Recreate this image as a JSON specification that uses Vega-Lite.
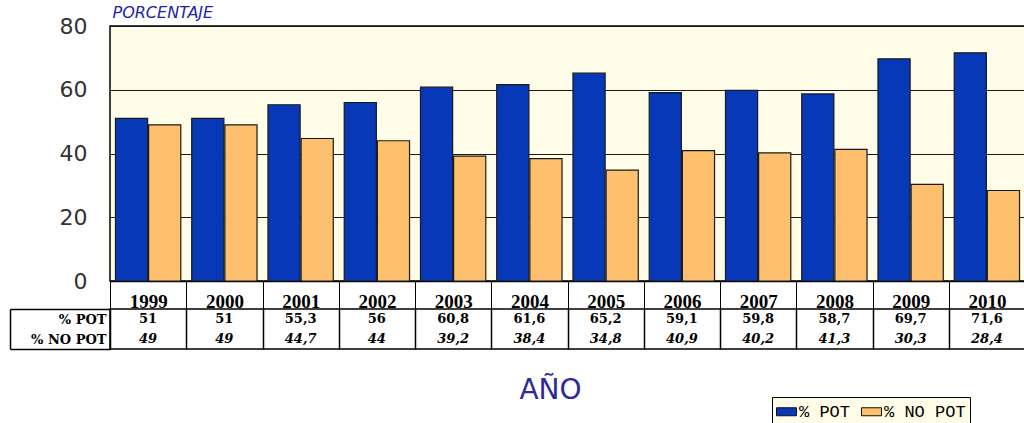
{
  "$schema": "https://vega.github.io/schema/vega-lite/v6.json",
  "background": "white",
  "padding": {"left": 8, "top": 3, "right": 0, "bottom": 0},
  "config": {
    "locale": {"number": {"decimal": ",", "thousands": ".", "grouping": [3], "currency": ["", ""]}},
    "axis": {"labelColor": "black"}
  },
  "datasets": {
    "d": [
      {"year": "1999", "pot": 51, "nopot": 49},
      {"year": "2000", "pot": 51, "nopot": 49},
      {"year": "2001", "pot": 55.3, "nopot": 44.7},
      {"year": "2002", "pot": 56, "nopot": 44},
      {"year": "2003", "pot": 60.8, "nopot": 39.2},
      {"year": "2004", "pot": 61.6, "nopot": 38.4},
      {"year": "2005", "pot": 65.2, "nopot": 34.8},
      {"year": "2006", "pot": 59.1, "nopot": 40.9},
      {"year": "2007", "pot": 59.8, "nopot": 40.2},
      {"year": "2008", "pot": 58.7, "nopot": 41.3},
      {"year": "2009", "pot": 69.7, "nopot": 30.3},
      {"year": "2010", "pot": 71.6, "nopot": 28.4}
    ]
  },
  "bounds": "flush",
  "spacing": 28,
  "vconcat": [
    {
      "width": 915,
      "height": 255,
      "view": {"fill": "#fffde8", "stroke": "black", "strokeWidth": 1.5},
      "data": {"name": "d"},
      "transform": [{"fold": ["pot", "nopot"], "as": ["serie", "value"]}],
      "mark": {"type": "bar", "stroke": "#1a1a1a", "strokeWidth": 1.2},
      "encoding": {
        "x": {
          "field": "year", "type": "ordinal",
          "scale": {"paddingInner": 0, "paddingOuter": 0},
          "axis": {
            "title": null, "labelAngle": 0, "tickBand": "extent", "tickSize": 28,
            "tickColor": "black", "domainColor": "black", "domainWidth": 1.5,
            "labelFont": "Liberation Serif", "labelFontWeight": "bold", "labelFontSize": 19,
            "labelBaseline": "alphabetic", "labelPadding": -2
          }
        },
        "xOffset": {"field": "serie", "scale": {"domain": ["pot", "nopot"], "paddingInner": 0.03, "paddingOuter": 0.165}},
        "y": {
          "field": "value", "type": "quantitative",
          "scale": {"domain": [0, 80]},
          "axis": {
            "values": [0, 20, 40, 60, 80], "ticks": false, "domain": false,
            "gridColor": "#1a1a1a", "gridOpacity": 1, "gridWidth": 1.2,
            "labelFont": "DejaVu Sans", "labelFontSize": 22, "labelColor": "#333333", "labelPadding": 23,
            "title": "PORCENTAJE", "titleAngle": 0, "titleX": 2, "titleY": -9,
            "titleAlign": "left", "titleBaseline": "alphabetic", "titleFont": "DejaVu Sans",
            "titleFontStyle": "italic", "titleFontWeight": "normal", "titleFontSize": 16, "titleColor": "#2424a8"
          }
        },
        "color": {
          "field": "serie", "type": "nominal",
          "scale": {"domain": ["pot", "nopot"], "range": ["#0638b8", "#ffc06e"]},
          "legend": {
            "orient": "none", "legendX": 662, "legendY": 371, "direction": "horizontal", "title": null,
            "labelExpr": "datum.label == 'pot' ? '% POT' : '% NO POT'",
            "labelFont": "Liberation Mono", "labelFontSize": 17, "labelColor": "black",
            "symbolType": "M-1,-0.4H1V0.4H-1Z", "symbolSize": 400, "symbolStrokeColor": "#111", "symbolStrokeWidth": 1,
            "symbolOpacity": 1, "columnPadding": 8, "labelOffset": 2,
            "fillColor": "#fffde8", "strokeColor": "black", "padding": 4
          }
        }
      }
    },
    {
      "width": 915,
      "height": 40,
      "view": {"fill": "white", "stroke": "black", "strokeWidth": 1.5},
      "data": {"name": "d"},
      "transform": [{"fold": ["pot", "nopot"], "as": ["serie", "value"]}],
      "encoding": {
        "x": {
          "field": "year", "type": "ordinal",
          "scale": {"paddingInner": 0, "paddingOuter": 0},
          "axis": {
            "labels": false, "ticks": false, "domain": false, "grid": true, "tickBand": "extent",
            "gridColor": "black", "gridOpacity": 1, "gridWidth": 1.5,
            "title": "AÑO", "titleFont": "DejaVu Sans", "titleFontSize": 28, "titleFontWeight": "normal",
            "titleColor": "#2b2b9b", "titleX": 440, "titleY": 49, "titleAlign": "center", "titleBaseline": "alphabetic"
          }
        },
        "y": {
          "field": "serie", "type": "nominal",
          "scale": {"domain": ["pot", "nopot"]},
          "axis": {
            "title": null, "offset": 100, "domainColor": "black", "domainWidth": 1.5,
            "tickBand": "extent", "tickSize": -100, "tickWidth": 1.5,
            "tickColor": {"condition": {"test": "datum.index === 0", "value": "transparent"}, "value": "black"},
            "labelExpr": "datum.value == 'pot' ? '% POT' : (datum.value == 'nopot' ? '% NO POT' : '')",
            "labelFont": "DejaVu Serif", "labelFontWeight": "bold", "labelFontSize": 13, "labelPadding": 4
          }
        },
        "text": {"field": "value", "type": "quantitative", "format": ".1~f"}
      },
      "layer": [
        {
          "transform": [{"filter": "datum.serie == 'pot'"}],
          "mark": {"type": "text", "font": "DejaVu Serif", "fontWeight": "bold", "fontSize": 13, "color": "black"}
        },
        {
          "transform": [{"filter": "datum.serie == 'nopot'"}],
          "mark": {"type": "text", "font": "DejaVu Serif", "fontWeight": "bold", "fontStyle": "italic", "fontSize": 13, "color": "black"}
        }
      ]
    }
  ]
}
